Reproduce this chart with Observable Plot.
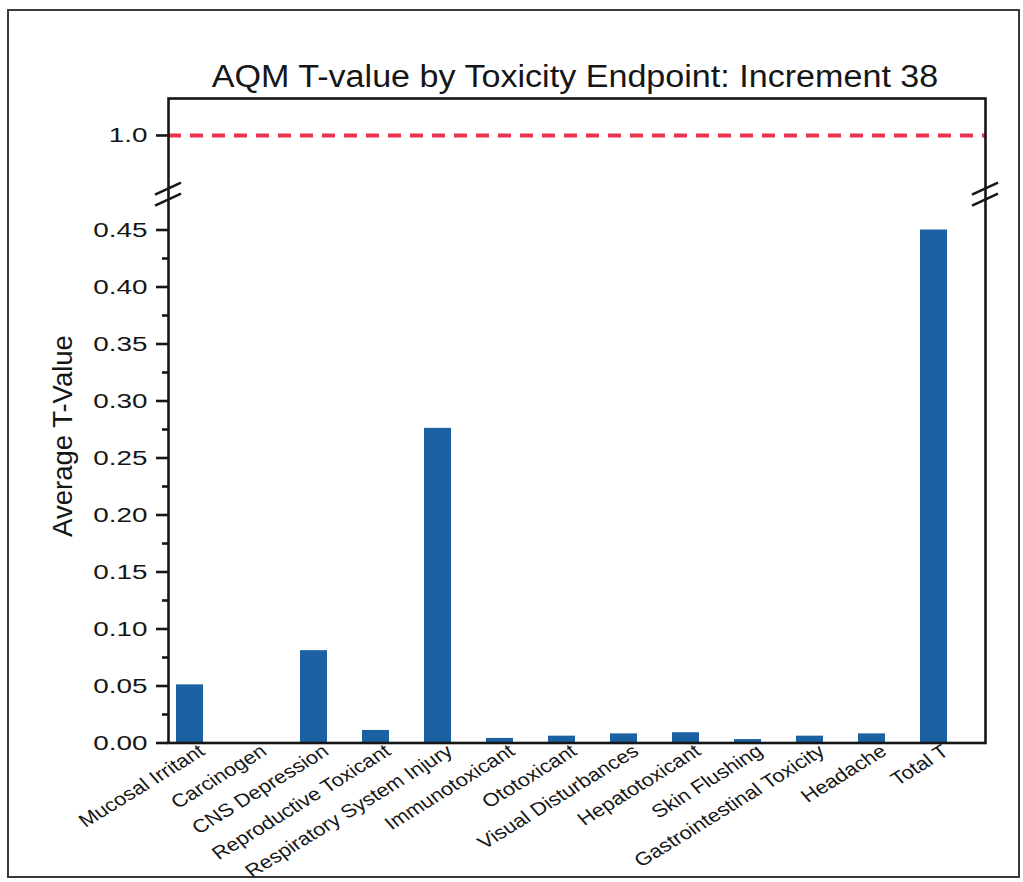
<!DOCTYPE html>
<html>
<head>
<meta charset="utf-8">
<script src="https://cdn.jsdelivr.net/npm/d3@7"></script>
<script src="https://cdn.jsdelivr.net/npm/@observablehq/plot@0.6"></script>
<style>
  html, body { margin: 0; padding: 0; background: #fff; }
  #wrap { position: relative; width: 1023px; height: 882px; overflow: hidden;
          font-family: "Liberation Sans", Arial, Helvetica, sans-serif; color: #161616; }
  #border { position: absolute; left: 7px; top: 9px; width: 1013px; height: 869px;
            border: 2px solid #3a3a3a; box-sizing: border-box; }
  #chart { position: absolute; left: 0; top: 0; }
  #title { position: absolute; left: 575px; top: 61px; font-size: 31px; line-height: 1;
           white-space: nowrap; transform: translateX(-50%) scaleX(1.1); }
  #ylabel { position: absolute; left: 63px; top: 436px; font-size: 27.5px; line-height: 1;
            white-space: nowrap; transform: translate(-50%, -50%) rotate(-90deg); }
</style>
</head>
<body>
<div id="wrap">
  <div id="border"></div>
  <div id="chart"></div>
  <div id="title">AQM T-value by Toxicity Endpoint: Increment 38</div>
  <div id="ylabel">Average T-Value</div>
</div>
<script>
// ---- data ----
const categories = [
  "Mucosal Irritant", "Carcinogen", "CNS Depression", "Reproductive Toxicant",
  "Respiratory System Injury", "Immunotoxicant", "Ototoxicant", "Visual Disturbances",
  "Hepatotoxicant", "Skin Flushing", "Gastrointestinal Toxicity", "Headache", "Total T"
];
const values = [0.051, 0, 0.081, 0.011, 0.276, 0.004, 0.006, 0.008, 0.009, 0.003, 0.006, 0.008, 0.450];
const majorTicks = [0, 0.05, 0.10, 0.15, 0.20, 0.25, 0.30, 0.35, 0.40, 0.45, 1.0];
const majorTickLabels = ["0.00", "0.05", "0.10", "0.15", "0.20", "0.25", "0.30", "0.35", "0.40", "0.45", "1.0"];
const minorTicks = [0.025, 0.075, 0.125, 0.175, 0.225, 0.275, 0.325, 0.375, 0.425];
const threshold = [1.0];
const breakLow = 0.48;    // top of lower segment
const breakHigh = 0.949;  // bottom of upper segment
const yTop = 1.0325;

const data = categories.map((c, i) => ({category: c, value: values[i]}));
const labelOf = new Map(majorTicks.map((t, i) => [t, majorTickLabels[i]]));

const ink = "#161616";

function breakMarks(index, scales, vals, dimensions) {
  const yb = (scales.y(breakLow) + scales.y(breakHigh)) / 2;
  const xs = [dimensions.marginLeft, dimensions.width - dimensions.marginRight];
  const g = d3.create("svg:g").attr("stroke", ink).attr("stroke-width", 2.6).attr("fill", "none");
  for (const x of xs) {
    for (const off of [-5.5, 5.5]) {
      g.append("line")
        .attr("x1", x - 13).attr("y1", yb + off + 6)
        .attr("x2", x + 13).attr("y2", yb + off - 6);
    }
  }
  return g.node();
}

const chart = Plot.plot({
  width: 1023,
  height: 882,
  marginLeft: 168,
  marginRight: 38,
  marginTop: 98,
  marginBottom: 139.5,
  style: {fontFamily: '"Liberation Sans", Arial, Helvetica, sans-serif', color: ink, background: "transparent", overflow: "visible"},
  x: {type: "band", domain: categories, range: [176, 955], paddingInner: 0.57, paddingOuter: 0, align: 0},
  y: {type: "linear", domain: [0, breakLow, breakHigh, yTop], range: [742.5, 195.3, 193, 98]},
  marks: [
    Plot.barY(data, {x: "category", y: "value", fill: "#1c62a2"}),
    Plot.ruleY(threshold, {stroke: "#e8344e", strokeWidth: 4, strokeDasharray: "13,9"}),
    Plot.frame({stroke: ink, strokeWidth: 2.6}),
    Plot.axisY({ticks: minorTicks, tickSize: 6, strokeWidth: 2.6, tickFormat: () => "", label: null}),
    Plot.axisY({ticks: majorTicks, tickSize: 12, tickPadding: 9, strokeWidth: 2.6, fontSize: 20.5,
                tickFormat: d => labelOf.get(d), label: null}),
    Plot.axisX({tickSize: 0, tickRotate: -36, tickPadding: 6, dx: 12, fontSize: 18.5, label: null}),
    breakMarks
  ]
});

document.getElementById("chart").appendChild(chart);

// horizontally widen tick label glyphs to match the reference's proportions
function stretch(label, s) {
  chart.querySelectorAll(`g[aria-label="${label}"] text`).forEach(t => {
    const tr = t.getAttribute("transform") || "";
    const m = tr.match(/^\s*translate\(([^)]*)\)(.*)$/);
    if (m) {
      t.setAttribute("transform", `translate(${m[1]}) scale(${s},1)${m[2]}`);
    } else {
      const x = +(t.getAttribute("x") || 0);
      t.setAttribute("transform", `translate(${x},0) scale(${s},1) translate(${-x},0) ${tr}`);
    }
  });
}
stretch("y-axis tick label", 1.36);
stretch("x-axis tick label", 1.18);
</script>
</body>
</html>
